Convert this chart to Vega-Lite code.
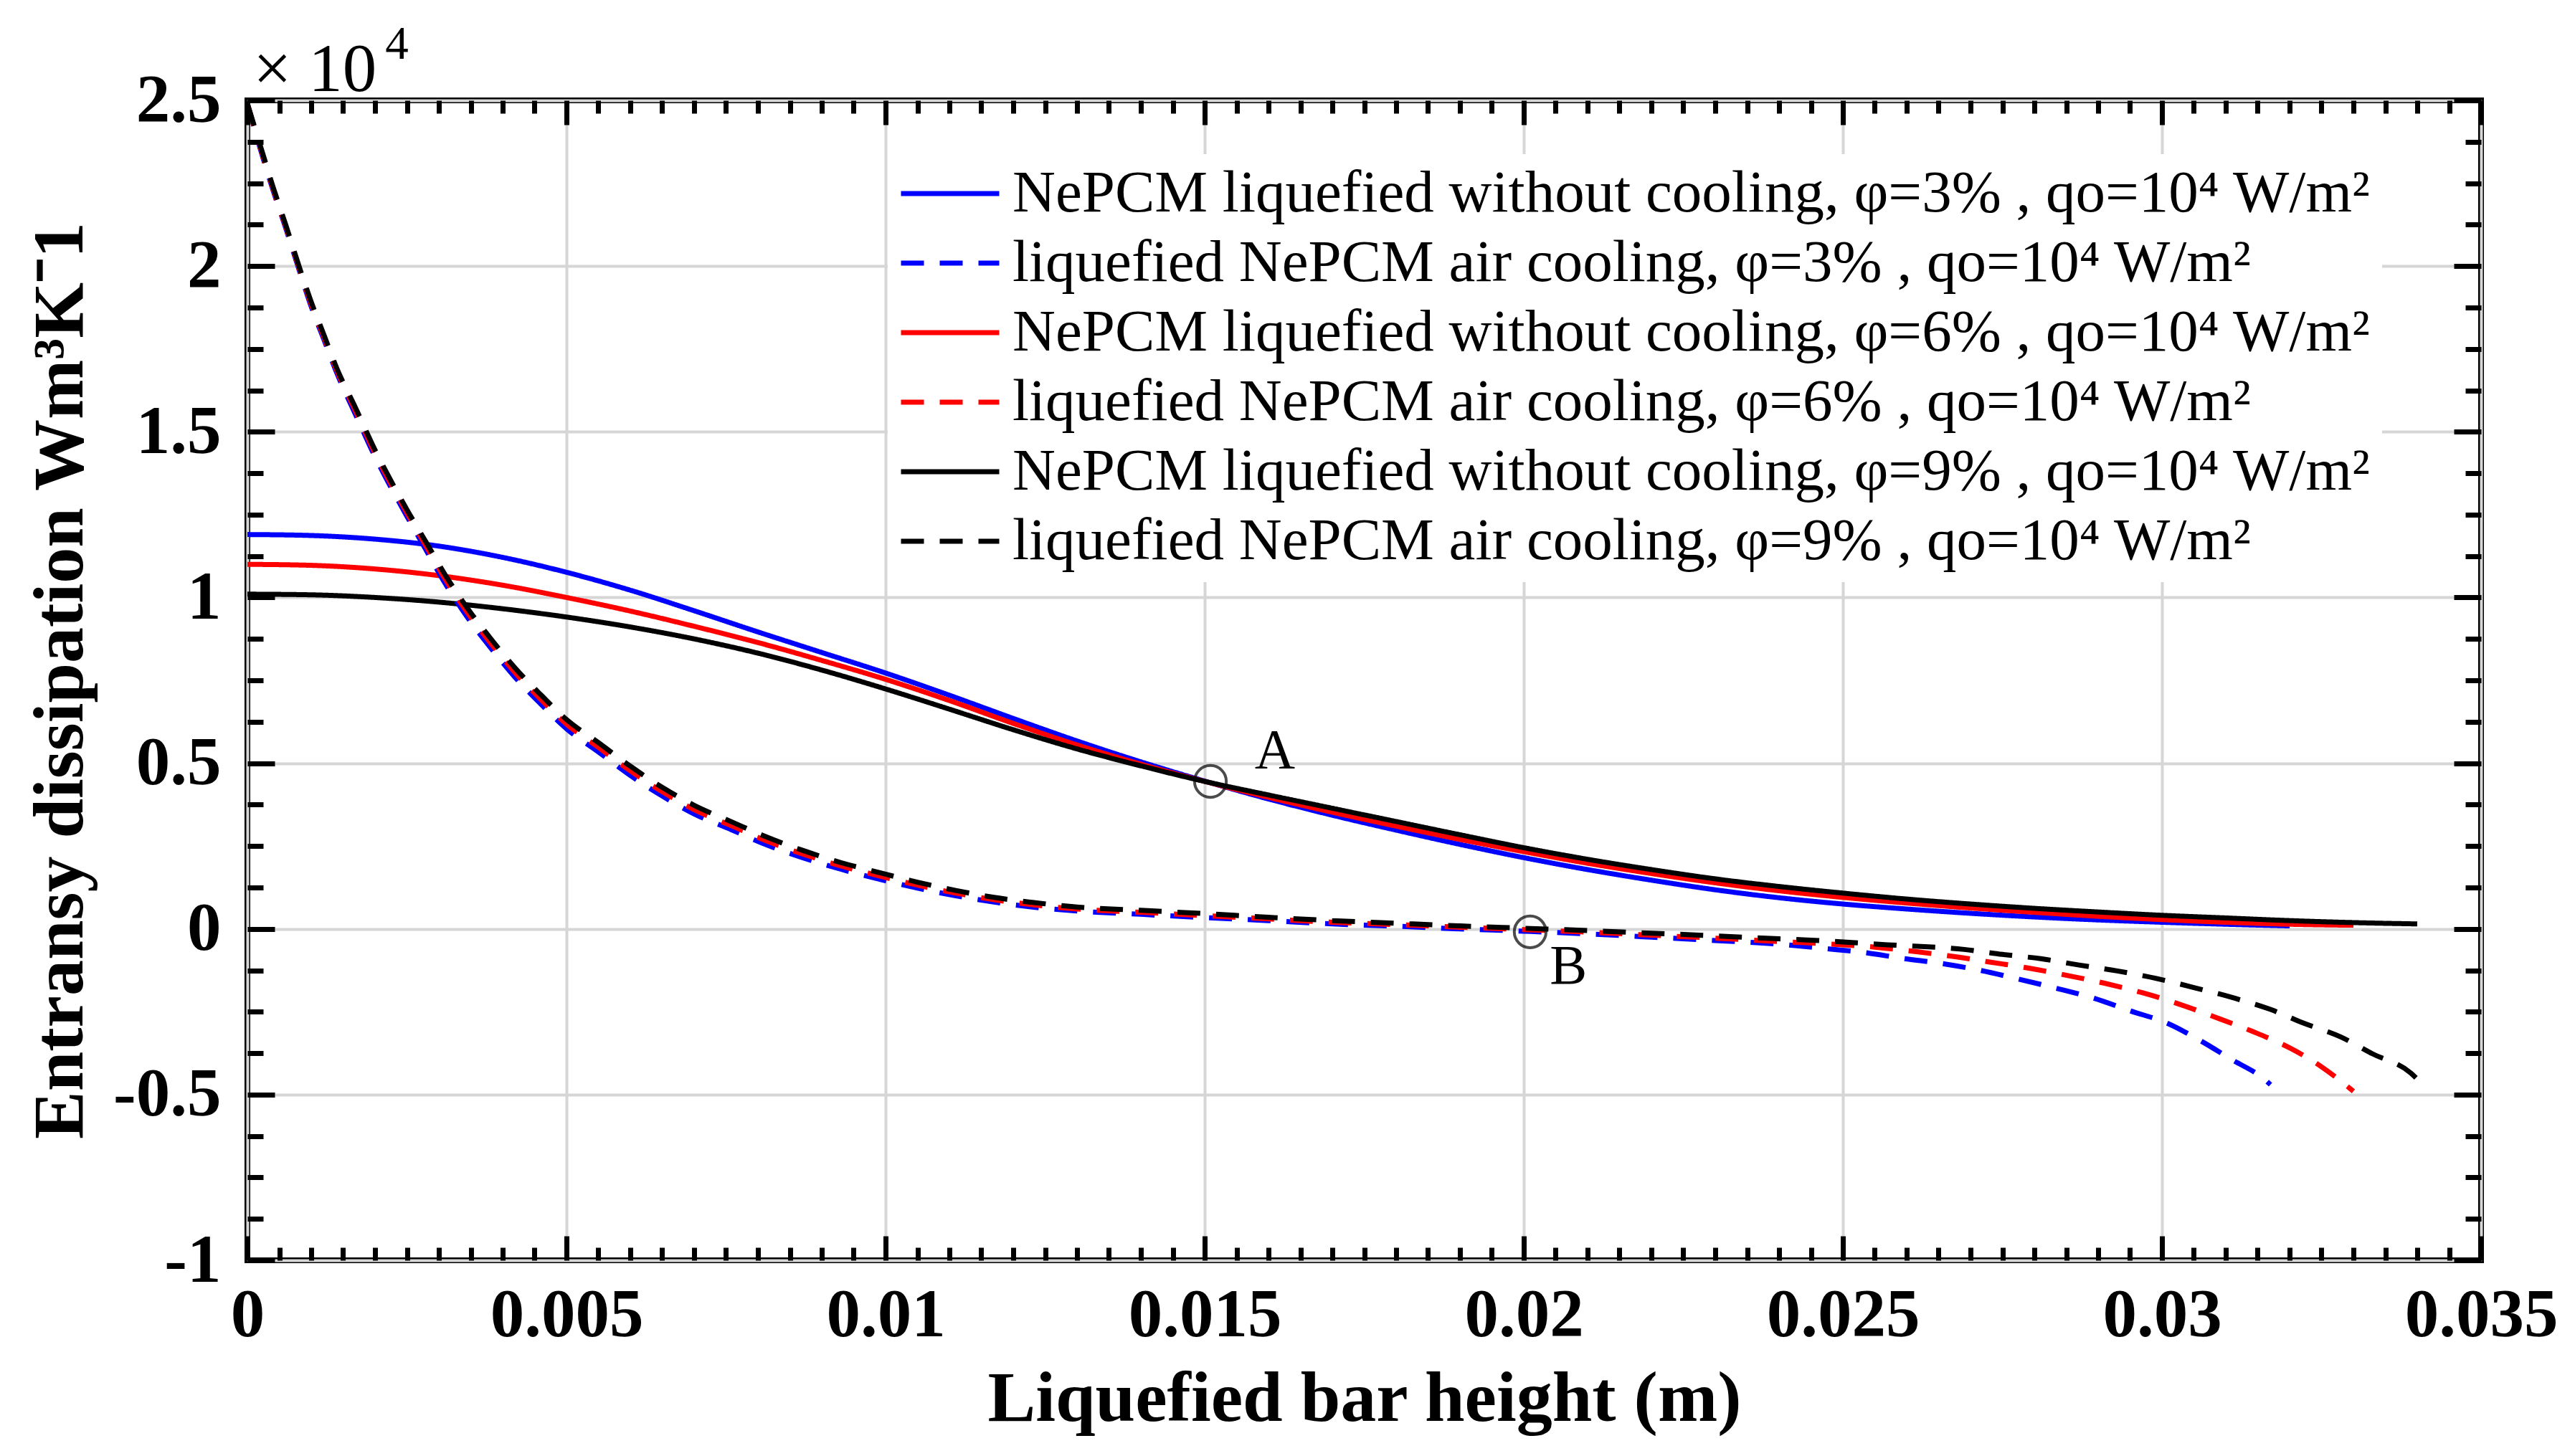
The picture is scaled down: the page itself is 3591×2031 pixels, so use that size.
{
  "$schema": "https://vega.github.io/schema/vega-lite/v6.json",
  "width": 3115,
  "height": 1618,
  "autosize": {"type": "none"},
  "padding": {"left": 345, "top": 140, "right": 131, "bottom": 273},
  "background": "white",
  "config": {
    "view": {"stroke": "black", "strokeWidth": 8},
    "axis": {"domain": false, "labelColor": "black", "titleColor": "black", "tickColor": "black", "labelLimit": 1000}
  },
  "datasets": {
    "names": [
      {"k": "b1", "series": "NePCM liquefied without cooling, φ=3% , qo=10⁴ W/m²"},
      {"k": "b2", "series": "liquefied NePCM air cooling, φ=3% , qo=10⁴ W/m²"},
      {"k": "r1", "series": "NePCM liquefied without cooling, φ=6% , qo=10⁴ W/m²"},
      {"k": "r2", "series": "liquefied NePCM air cooling, φ=6% , qo=10⁴ W/m²"},
      {"k": "k1", "series": "NePCM liquefied without cooling, φ=9% , qo=10⁴ W/m²"},
      {"k": "k2", "series": "liquefied NePCM air cooling, φ=9% , qo=10⁴ W/m²"}
    ],
    "curves": [
      {"k":"b1","x":0,"y":1.19},{"k":"b1","x":0.001,"y":1.187},{"k":"b1","x":0.002,"y":1.176},{"k":"b1","x":0.003,"y":1.155},{"k":"b1","x":0.004,"y":1.121},{"k":"b1","x":0.005,"y":1.076},{"k":"b1","x":0.006,"y":1.022},{"k":"b1","x":0.007,"y":0.96},{"k":"b1","x":0.008,"y":0.896},{"k":"b1","x":0.009,"y":0.834},{"k":"b1","x":0.01,"y":0.772},{"k":"b1","x":0.011,"y":0.705},{"k":"b1","x":0.012,"y":0.635},{"k":"b1","x":0.013,"y":0.567},{"k":"b1","x":0.014,"y":0.504},{"k":"b1","x":0.015,"y":0.446},{"k":"b1","x":0.016,"y":0.392},{"k":"b1","x":0.017,"y":0.343},{"k":"b1","x":0.018,"y":0.298},{"k":"b1","x":0.019,"y":0.255},{"k":"b1","x":0.02,"y":0.215},{"k":"b1","x":0.021,"y":0.179},{"k":"b1","x":0.022,"y":0.147},{"k":"b1","x":0.023,"y":0.118},{"k":"b1","x":0.024,"y":0.094},{"k":"b1","x":0.025,"y":0.075},{"k":"b1","x":0.026,"y":0.06},{"k":"b1","x":0.027,"y":0.047},{"k":"b1","x":0.028,"y":0.036},{"k":"b1","x":0.029,"y":0.027},{"k":"b1","x":0.03,"y":0.02},{"k":"b1","x":0.031,"y":0.014},{"k":"b1","x":0.032,"y":0.009},
      {"k":"r1","x":0,"y":1.1},{"k":"r1","x":0.001,"y":1.097},{"k":"r1","x":0.002,"y":1.086},{"k":"r1","x":0.003,"y":1.066},{"k":"r1","x":0.004,"y":1.037},{"k":"r1","x":0.005,"y":1.0},{"k":"r1","x":0.006,"y":0.959},{"k":"r1","x":0.007,"y":0.913},{"k":"r1","x":0.008,"y":0.864},{"k":"r1","x":0.009,"y":0.81},{"k":"r1","x":0.01,"y":0.753},{"k":"r1","x":0.011,"y":0.689},{"k":"r1","x":0.012,"y":0.62},{"k":"r1","x":0.013,"y":0.555},{"k":"r1","x":0.014,"y":0.497},{"k":"r1","x":0.015,"y":0.445},{"k":"r1","x":0.016,"y":0.397},{"k":"r1","x":0.017,"y":0.352},{"k":"r1","x":0.018,"y":0.31},{"k":"r1","x":0.019,"y":0.27},{"k":"r1","x":0.02,"y":0.233},{"k":"r1","x":0.021,"y":0.198},{"k":"r1","x":0.022,"y":0.167},{"k":"r1","x":0.023,"y":0.139},{"k":"r1","x":0.024,"y":0.115},{"k":"r1","x":0.025,"y":0.095},{"k":"r1","x":0.026,"y":0.078},{"k":"r1","x":0.027,"y":0.063},{"k":"r1","x":0.028,"y":0.05},{"k":"r1","x":0.029,"y":0.038},{"k":"r1","x":0.03,"y":0.028},{"k":"r1","x":0.031,"y":0.02},{"k":"r1","x":0.032,"y":0.014},{"k":"r1","x":0.033,"y":0.011},
      {"k":"k1","x":0,"y":1.01},{"k":"k1","x":0.001,"y":1.008},{"k":"k1","x":0.002,"y":1.0},{"k":"k1","x":0.003,"y":0.986},{"k":"k1","x":0.004,"y":0.966},{"k":"k1","x":0.005,"y":0.941},{"k":"k1","x":0.006,"y":0.911},{"k":"k1","x":0.007,"y":0.875},{"k":"k1","x":0.008,"y":0.832},{"k":"k1","x":0.009,"y":0.781},{"k":"k1","x":0.01,"y":0.724},{"k":"k1","x":0.011,"y":0.663},{"k":"k1","x":0.012,"y":0.601},{"k":"k1","x":0.013,"y":0.543},{"k":"k1","x":0.014,"y":0.492},{"k":"k1","x":0.015,"y":0.445},{"k":"k1","x":0.016,"y":0.404},{"k":"k1","x":0.017,"y":0.364},{"k":"k1","x":0.018,"y":0.324},{"k":"k1","x":0.019,"y":0.284},{"k":"k1","x":0.02,"y":0.245},{"k":"k1","x":0.021,"y":0.21},{"k":"k1","x":0.022,"y":0.179},{"k":"k1","x":0.023,"y":0.151},{"k":"k1","x":0.024,"y":0.128},{"k":"k1","x":0.025,"y":0.108},{"k":"k1","x":0.026,"y":0.09},{"k":"k1","x":0.027,"y":0.075},{"k":"k1","x":0.028,"y":0.062},{"k":"k1","x":0.029,"y":0.051},{"k":"k1","x":0.03,"y":0.041},{"k":"k1","x":0.031,"y":0.033},{"k":"k1","x":0.032,"y":0.025},{"k":"k1","x":0.033,"y":0.019},{"k":"k1","x":0.034,"y":0.015},
      {"k":"b2","x":0,"y":2.49},{"k":"b2","x":0.0002,"y":2.355},{"k":"b2","x":0.0004,"y":2.23},{"k":"b2","x":0.0006,"y":2.115},{"k":"b2","x":0.0008,"y":1.995},{"k":"b2","x":0.001,"y":1.878},{"k":"b2","x":0.0012,"y":1.778},{"k":"b2","x":0.0014,"y":1.678},{"k":"b2","x":0.0017,"y":1.55},{"k":"b2","x":0.002,"y":1.425},{"k":"b2","x":0.0022,"y":1.35},{"k":"b2","x":0.0025,"y":1.245},{"k":"b2","x":0.0028,"y":1.143},{"k":"b2","x":0.0031,"y":1.042},{"k":"b2","x":0.0035,"y":0.926},{"k":"b2","x":0.0038,"y":0.851},{"k":"b2","x":0.0042,"y":0.758},{"k":"b2","x":0.0046,"y":0.678},{"k":"b2","x":0.005,"y":0.604},{"k":"b2","x":0.0055,"y":0.534},{"k":"b2","x":0.006,"y":0.463},{"k":"b2","x":0.0065,"y":0.401},{"k":"b2","x":0.007,"y":0.347},{"k":"b2","x":0.0076,"y":0.298},{"k":"b2","x":0.0081,"y":0.256},{"k":"b2","x":0.0087,"y":0.215},{"k":"b2","x":0.0093,"y":0.18},{"k":"b2","x":0.0099,"y":0.15},{"k":"b2","x":0.0105,"y":0.123},{"k":"b2","x":0.0111,"y":0.1},{"k":"b2","x":0.0117,"y":0.081},{"k":"b2","x":0.0123,"y":0.066},{"k":"b2","x":0.013,"y":0.054},{"k":"b2","x":0.014,"y":0.044},{"k":"b2","x":0.015,"y":0.034},{"k":"b2","x":0.016,"y":0.025},{"k":"b2","x":0.017,"y":0.015},{"k":"b2","x":0.018,"y":0.008},{"k":"b2","x":0.019,"y":0.0},{"k":"b2","x":0.02,"y":-0.007},{"k":"b2","x":0.021,"y":-0.015},{"k":"b2","x":0.022,"y":-0.025},{"k":"b2","x":0.023,"y":-0.035},{"k":"b2","x":0.024,"y":-0.046},{"k":"b2","x":0.0247,"y":-0.059},{"k":"b2","x":0.0254,"y":-0.073},{"k":"b2","x":0.0259,"y":-0.088},{"k":"b2","x":0.0266,"y":-0.106},{"k":"b2","x":0.0271,"y":-0.123},{"k":"b2","x":0.0277,"y":-0.149},{"k":"b2","x":0.0283,"y":-0.177},{"k":"b2","x":0.0289,"y":-0.207},{"k":"b2","x":0.0295,"y":-0.247},{"k":"b2","x":0.0301,"y":-0.286},{"k":"b2","x":0.0306,"y":-0.337},{"k":"b2","x":0.0311,"y":-0.395},{"k":"b2","x":0.0316,"y":-0.453},{"k":"b2","x":0.0317,"y":-0.47},
      {"k":"r2","x":0,"y":2.49},{"k":"r2","x":0.0002,"y":2.36},{"k":"r2","x":0.0004,"y":2.235},{"k":"r2","x":0.0006,"y":2.12},{"k":"r2","x":0.0008,"y":2.0},{"k":"r2","x":0.001,"y":1.885},{"k":"r2","x":0.0012,"y":1.785},{"k":"r2","x":0.0014,"y":1.685},{"k":"r2","x":0.0017,"y":1.56},{"k":"r2","x":0.002,"y":1.435},{"k":"r2","x":0.0022,"y":1.36},{"k":"r2","x":0.0025,"y":1.255},{"k":"r2","x":0.0028,"y":1.155},{"k":"r2","x":0.0031,"y":1.055},{"k":"r2","x":0.0035,"y":0.94},{"k":"r2","x":0.0038,"y":0.865},{"k":"r2","x":0.0042,"y":0.772},{"k":"r2","x":0.0046,"y":0.692},{"k":"r2","x":0.005,"y":0.618},{"k":"r2","x":0.0055,"y":0.548},{"k":"r2","x":0.006,"y":0.477},{"k":"r2","x":0.0065,"y":0.414},{"k":"r2","x":0.007,"y":0.36},{"k":"r2","x":0.0076,"y":0.31},{"k":"r2","x":0.0081,"y":0.268},{"k":"r2","x":0.0087,"y":0.226},{"k":"r2","x":0.0093,"y":0.19},{"k":"r2","x":0.0099,"y":0.16},{"k":"r2","x":0.0105,"y":0.132},{"k":"r2","x":0.0111,"y":0.108},{"k":"r2","x":0.0117,"y":0.088},{"k":"r2","x":0.0123,"y":0.073},{"k":"r2","x":0.013,"y":0.06},{"k":"r2","x":0.014,"y":0.05},{"k":"r2","x":0.015,"y":0.04},{"k":"r2","x":0.016,"y":0.03},{"k":"r2","x":0.017,"y":0.02},{"k":"r2","x":0.018,"y":0.013},{"k":"r2","x":0.019,"y":0.005},{"k":"r2","x":0.02,"y":-0.002},{"k":"r2","x":0.021,"y":-0.01},{"k":"r2","x":0.022,"y":-0.019},{"k":"r2","x":0.023,"y":-0.028},{"k":"r2","x":0.024,"y":-0.038},{"k":"r2","x":0.025,"y":-0.048},{"k":"r2","x":0.0255,"y":-0.055},{"k":"r2","x":0.0262,"y":-0.07},{"k":"r2","x":0.0268,"y":-0.085},{"k":"r2","x":0.0273,"y":-0.1},{"k":"r2","x":0.0279,"y":-0.118},{"k":"r2","x":0.0285,"y":-0.14},{"k":"r2","x":0.0291,"y":-0.164},{"k":"r2","x":0.0297,"y":-0.193},{"k":"r2","x":0.0303,"y":-0.229},{"k":"r2","x":0.0308,"y":-0.264},{"k":"r2","x":0.0314,"y":-0.308},{"k":"r2","x":0.032,"y":-0.359},{"k":"r2","x":0.0325,"y":-0.416},{"k":"r2","x":0.033,"y":-0.49},
      {"k":"k2","x":0,"y":2.49},{"k":"k2","x":0.0002,"y":2.365},{"k":"k2","x":0.0004,"y":2.24},{"k":"k2","x":0.0006,"y":2.125},{"k":"k2","x":0.0008,"y":2.005},{"k":"k2","x":0.001,"y":1.892},{"k":"k2","x":0.0012,"y":1.792},{"k":"k2","x":0.0014,"y":1.692},{"k":"k2","x":0.0017,"y":1.57},{"k":"k2","x":0.002,"y":1.445},{"k":"k2","x":0.0022,"y":1.37},{"k":"k2","x":0.0025,"y":1.265},{"k":"k2","x":0.0028,"y":1.167},{"k":"k2","x":0.0031,"y":1.068},{"k":"k2","x":0.0035,"y":0.954},{"k":"k2","x":0.0038,"y":0.879},{"k":"k2","x":0.0042,"y":0.786},{"k":"k2","x":0.0046,"y":0.706},{"k":"k2","x":0.005,"y":0.632},{"k":"k2","x":0.0055,"y":0.562},{"k":"k2","x":0.006,"y":0.491},{"k":"k2","x":0.0065,"y":0.427},{"k":"k2","x":0.007,"y":0.373},{"k":"k2","x":0.0076,"y":0.322},{"k":"k2","x":0.0081,"y":0.28},{"k":"k2","x":0.0087,"y":0.237},{"k":"k2","x":0.0093,"y":0.2},{"k":"k2","x":0.0099,"y":0.17},{"k":"k2","x":0.0105,"y":0.141},{"k":"k2","x":0.0111,"y":0.116},{"k":"k2","x":0.0117,"y":0.095},{"k":"k2","x":0.0123,"y":0.08},{"k":"k2","x":0.013,"y":0.066},{"k":"k2","x":0.014,"y":0.056},{"k":"k2","x":0.015,"y":0.046},{"k":"k2","x":0.016,"y":0.035},{"k":"k2","x":0.017,"y":0.025},{"k":"k2","x":0.018,"y":0.017},{"k":"k2","x":0.019,"y":0.009},{"k":"k2","x":0.02,"y":0.002},{"k":"k2","x":0.021,"y":-0.005},{"k":"k2","x":0.022,"y":-0.013},{"k":"k2","x":0.023,"y":-0.021},{"k":"k2","x":0.024,"y":-0.03},{"k":"k2","x":0.0245,"y":-0.034},{"k":"k2","x":0.0257,"y":-0.048},{"k":"k2","x":0.0269,"y":-0.062},{"k":"k2","x":0.0275,"y":-0.077},{"k":"k2","x":0.0281,"y":-0.09},{"k":"k2","x":0.0287,"y":-0.109},{"k":"k2","x":0.0293,"y":-0.127},{"k":"k2","x":0.0299,"y":-0.149},{"k":"k2","x":0.0305,"y":-0.177},{"k":"k2","x":0.0311,"y":-0.207},{"k":"k2","x":0.0317,"y":-0.243},{"k":"k2","x":0.0322,"y":-0.283},{"k":"k2","x":0.0328,"y":-0.326},{"k":"k2","x":0.0333,"y":-0.377},{"k":"k2","x":0.0339,"y":-0.435},{"k":"k2","x":0.034,"y":-0.453}
    ],
    "points": [
      {"name": "A", "x": 0.01509, "y": 0.445, "tx": 0.0161, "ty": 0.536},
      {"name": "B", "x": 0.0201, "y": -0.009, "tx": 0.0207, "ty": -0.115}
    ]
  },
  "resolve": {"axis": {"x": "independent", "y": "independent"}},
  "layer": [
    {
      "data": {"name": "curves"},
      "transform": [{"lookup": "k", "from": {"data": {"name": "names"}, "key": "k", "fields": ["series"]}}],
      "mark": {"type": "line", "strokeWidth": 7, "clip": true, "interpolate": "monotone"},
      "encoding": {
        "x": {
          "field": "x", "type": "quantitative",
          "scale": {"domain": [0, 0.035], "nice": false, "zero": false},
          "axis": {
            "orient": "bottom",
            "values": [0, 0.005, 0.01, 0.015, 0.02, 0.025, 0.03, 0.035],
            "labelExpr": "'' + datum.value",
            "grid": true, "gridColor": "#d6d6d6", "gridWidth": 4,
            "ticks": false,
            "labelFont": "Liberation Serif", "labelFontWeight": "bold", "labelFontSize": 95,
            "labelPadding": 30, "labelFlush": false, "labelOverlap": false, "labelLimit": 1000,
            "title": "Liquefied bar height (m)",
            "titleFont": "Liberation Serif", "titleFontWeight": "bold", "titleFontSize": 100,
            "titlePadding": 20
          }
        },
        "y": {
          "field": "y", "type": "quantitative",
          "scale": {"domain": [-1, 2.5], "nice": false, "zero": false},
          "axis": {
            "orient": "left",
            "values": [-1, -0.5, 0, 0.5, 1, 1.5, 2, 2.5],
            "labelExpr": "'' + datum.value",
            "grid": true, "gridColor": "#d6d6d6", "gridWidth": 4,
            "ticks": false,
            "labelFont": "Liberation Serif", "labelFontWeight": "bold", "labelFontSize": 95,
            "labelPadding": 37, "labelFlush": false, "labelOverlap": false, "labelLimit": 1000,
            "title": "Entransy dissipation Wm³K⁻1",
            "titleFont": "Liberation Serif", "titleFontWeight": "bold", "titleFontSize": 100,
            "titlePadding": 22
          }
        },
        "color": {
          "field": "series", "type": "nominal",
          "scale": {
            "domain": [
              "NePCM liquefied without cooling, φ=3% , qo=10⁴ W/m²",
              "liquefied NePCM air cooling, φ=3% , qo=10⁴ W/m²",
              "NePCM liquefied without cooling, φ=6% , qo=10⁴ W/m²",
              "liquefied NePCM air cooling, φ=6% , qo=10⁴ W/m²",
              "NePCM liquefied without cooling, φ=9% , qo=10⁴ W/m²",
              "liquefied NePCM air cooling, φ=9% , qo=10⁴ W/m²"
            ],
            "range": ["#0000ff", "#0000ff", "#ff0000", "#ff0000", "#000000", "#000000"]
          },
          "legend": {
            "orient": "none", "legendX": 893, "legendY": 75,
            "title": null, "fillColor": "white", "padding": 15,
            "labelFont": "Liberation Serif", "labelFontSize": 83, "labelColor": "black", "labelLimit": 3000,
            "symbolType": "stroke", "symbolSize": 18769, "symbolStrokeWidth": 7,
            "labelOffset": 15, "rowPadding": 14, "clipHeight": 80
          }
        },
        "strokeDash": {
          "field": "series", "type": "nominal",
          "scale": {
            "domain": [
              "NePCM liquefied without cooling, φ=3% , qo=10⁴ W/m²",
              "liquefied NePCM air cooling, φ=3% , qo=10⁴ W/m²",
              "NePCM liquefied without cooling, φ=6% , qo=10⁴ W/m²",
              "liquefied NePCM air cooling, φ=6% , qo=10⁴ W/m²",
              "NePCM liquefied without cooling, φ=9% , qo=10⁴ W/m²",
              "liquefied NePCM air cooling, φ=9% , qo=10⁴ W/m²"
            ],
            "range": [[1, 0], [32, 22], [1, 0], [32, 22], [1, 0], [32, 22]]
          }
        }
      }
    },
    {
      "data": {"name": "points"},
      "mark": {"type": "point", "shape": "circle", "filled": false, "size": 1960, "stroke": "black", "strokeWidth": 4},
      "encoding": {
        "x": {
          "field": "x", "type": "quantitative",
          "scale": {"domain": [0, 0.035], "nice": false, "zero": false},
          "axis": {"orient": "bottom", "values": [0, 0.005, 0.01, 0.015, 0.02, 0.025, 0.03, 0.035], "labels": false, "grid": false, "tickSize": -34, "tickWidth": 7, "title": null, "zindex": 1}
        },
        "y": {
          "field": "y", "type": "quantitative",
          "scale": {"domain": [-1, 2.5], "nice": false, "zero": false},
          "axis": {"orient": "left", "values": [-1, -0.5, 0, 0.5, 1, 1.5, 2, 2.5], "labels": false, "grid": false, "tickSize": -38, "tickWidth": 7, "title": null, "zindex": 1}
        }
      }
    },
    {
      "data": {"name": "points"},
      "mark": {"type": "text", "font": "Liberation Serif", "fontSize": 78, "color": "black", "align": "center", "baseline": "middle"},
      "encoding": {
        "text": {"field": "name"},
        "x": {
          "field": "tx", "type": "quantitative",
          "scale": {"domain": [0, 0.035], "nice": false, "zero": false},
          "axis": {"orient": "bottom", "values": [0.0005,0.001,0.0015,0.002,0.0025,0.003,0.0035,0.004,0.0045,0.0055,0.006,0.0065,0.007,0.0075,0.008,0.0085,0.009,0.0095,0.0105,0.011,0.0115,0.012,0.0125,0.013,0.0135,0.014,0.0145,0.0155,0.016,0.0165,0.017,0.0175,0.018,0.0185,0.019,0.0195,0.0205,0.021,0.0215,0.022,0.0225,0.023,0.0235,0.024,0.0245,0.0255,0.026,0.0265,0.027,0.0275,0.028,0.0285,0.029,0.0295,0.0305,0.031,0.0315,0.032,0.0325,0.033,0.0335,0.034,0.0345], "labels": false, "grid": false, "tickSize": -18, "tickWidth": 7, "title": null, "zindex": 1}
        },
        "y": {
          "field": "ty", "type": "quantitative",
          "scale": {"domain": [-1, 2.5], "nice": false, "zero": false},
          "axis": {"orient": "left", "values": [-0.875,-0.75,-0.625,-0.375,-0.25,-0.125,0.125,0.25,0.375,0.625,0.75,0.875,1.125,1.25,1.375,1.625,1.75,1.875,2.125,2.25,2.375], "labels": false, "grid": false, "tickSize": -22, "tickWidth": 7, "title": null, "zindex": 1}
        }
      }
    },
    {
      "data": {"values": [{"label": "× 10", "x": 0.00009, "y": 2.528}]},
      "mark": {"type": "text", "font": "Liberation Serif", "fontSize": 95, "color": "black", "align": "left", "baseline": "alphabetic", "clip": false},
      "encoding": {
        "text": {"field": "label"},
        "x": {
          "field": "x", "type": "quantitative",
          "scale": {"domain": [0, 0.035], "nice": false, "zero": false},
          "axis": {"orient": "top", "values": [0, 0.005, 0.01, 0.015, 0.02, 0.025, 0.03, 0.035], "labels": false, "grid": false, "tickSize": -34, "tickWidth": 7, "title": null, "zindex": 1}
        },
        "y": {
          "field": "y", "type": "quantitative",
          "scale": {"domain": [-1, 2.5], "nice": false, "zero": false},
          "axis": {"orient": "right", "values": [-1, -0.5, 0, 0.5, 1, 1.5, 2, 2.5], "labels": false, "grid": false, "tickSize": -38, "tickWidth": 7, "title": null, "zindex": 1}
        }
      }
    },
    {
      "data": {"values": [{"label": "4", "x": 0.00216, "y": 2.6255}]},
      "mark": {"type": "text", "font": "Liberation Serif", "fontSize": 65, "color": "black", "align": "left", "baseline": "alphabetic", "clip": false},
      "encoding": {
        "text": {"field": "label"},
        "x": {
          "field": "x", "type": "quantitative",
          "scale": {"domain": [0, 0.035], "nice": false, "zero": false},
          "axis": {"orient": "top", "values": [0.0005,0.001,0.0015,0.002,0.0025,0.003,0.0035,0.004,0.0045,0.0055,0.006,0.0065,0.007,0.0075,0.008,0.0085,0.009,0.0095,0.0105,0.011,0.0115,0.012,0.0125,0.013,0.0135,0.014,0.0145,0.0155,0.016,0.0165,0.017,0.0175,0.018,0.0185,0.019,0.0195,0.0205,0.021,0.0215,0.022,0.0225,0.023,0.0235,0.024,0.0245,0.0255,0.026,0.0265,0.027,0.0275,0.028,0.0285,0.029,0.0295,0.0305,0.031,0.0315,0.032,0.0325,0.033,0.0335,0.034,0.0345], "labels": false, "grid": false, "tickSize": -18, "tickWidth": 7, "title": null, "zindex": 1}
        },
        "y": {
          "field": "y", "type": "quantitative",
          "scale": {"domain": [-1, 2.5], "nice": false, "zero": false},
          "axis": {"orient": "right", "values": [-0.875,-0.75,-0.625,-0.375,-0.25,-0.125,0.125,0.25,0.375,0.625,0.75,0.875,1.125,1.25,1.375,1.625,1.75,1.875,2.125,2.25,2.375], "labels": false, "grid": false, "tickSize": -22, "tickWidth": 7, "title": null, "zindex": 1}
        }
      }
    }
  ]
}
